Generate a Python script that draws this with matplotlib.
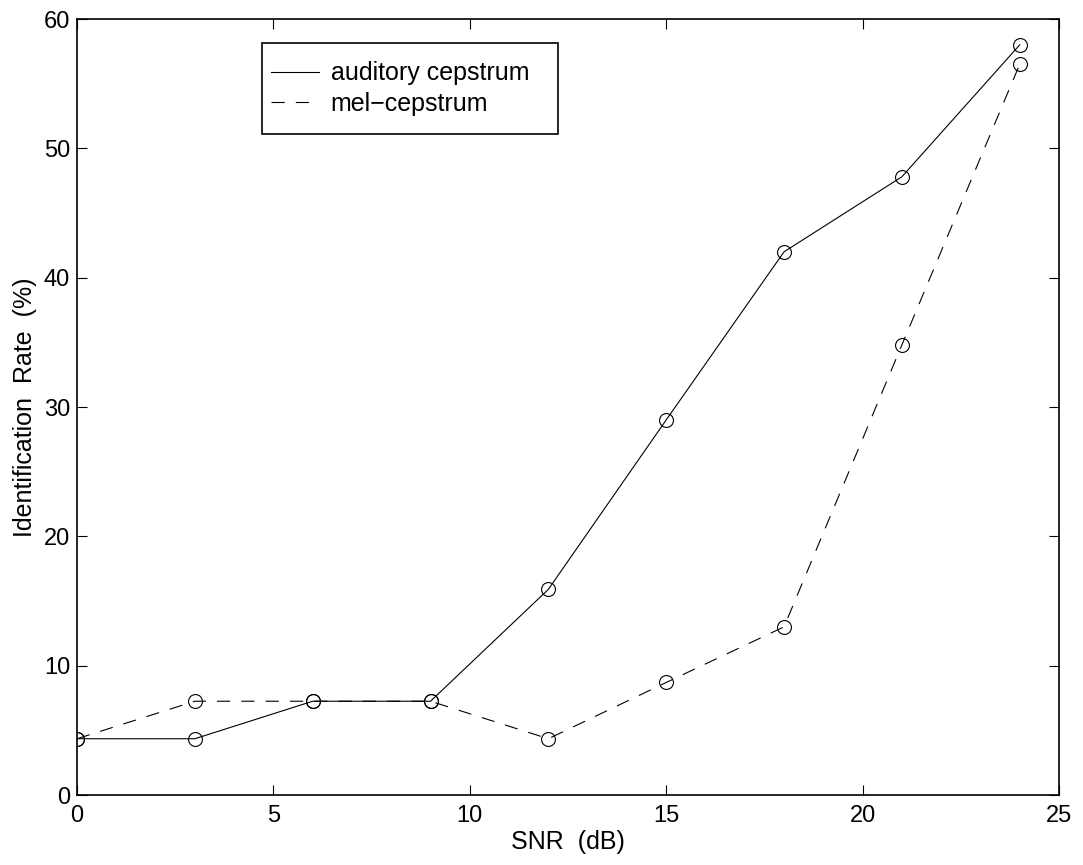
import matplotlib
matplotlib.use('Agg')
import matplotlib.pyplot as plt
from matplotlib.patches import Rectangle

plt.rcParams['font.family'] = ['Liberation Sans', 'DejaVu Sans']
plt.rcParams['lines.scale_dashes'] = False

# SNR levels and identification rates
snr = [0, 3, 6, 9, 12, 15, 18, 21, 24]
auditory = [4.35, 4.35, 7.25, 7.25, 15.9, 29.0, 42.0, 47.8, 58.0]
mel = [4.35, 7.25, 7.25, 7.25, 4.35, 8.7, 13.0, 34.8, 56.5]

fig = plt.figure(figsize=(10.83, 8.65), dpi=100)
ax = fig.add_axes([77/1083, 70/865, 982/1083, 776/865])

ax.plot(snr, auditory, color='black', lw=0.8, marker='o', ms=10,
        mfc='none', mec='black', mew=0.8, label='auditory cepstrum')
ax.plot(snr, mel, color='black', lw=0.8, dashes=(9.5, 8), marker='o', ms=10,
        mfc='none', mec='black', mew=0.8, label='mel\u2212cepstrum')

ax.set_xlim(0, 25)
ax.set_ylim(0, 60)
ax.set_xticks([0, 5, 10, 15, 20, 25])
ax.set_yticks([0, 10, 20, 30, 40, 50, 60])
ax.tick_params(direction='in', length=7, width=0.8, top=True, right=True,
               labelsize=17)
ax.tick_params(axis='x', pad=7)
ax.tick_params(axis='y', pad=5)
for s in ax.spines.values():
    s.set_linewidth(1.2)

ax.set_xlabel('SNR  (dB)', fontsize=18, labelpad=2)
ax.set_ylabel('Identification  Rate  (%)', fontsize=18, labelpad=5)

# legend box drawn by hand, MATLAB style (wider on the right)
box = Rectangle((0.1884, 0.8518), 0.3014, 0.1172, transform=ax.transAxes,
                fill=True, facecolor='white', edgecolor='black', lw=1.2,
                zorder=4)
ax.add_patch(box)
leg = ax.legend(loc='upper left', bbox_to_anchor=(0.1976, 0.9455), fontsize=18,
                frameon=False, handlelength=1.9, handletextpad=0.48,
                borderpad=0, labelspacing=0.27, borderaxespad=0)
leg.set_zorder(5)
for h in leg.legend_handles:
    h.set_marker('')

fig.savefig('out.png', dpi=100)
